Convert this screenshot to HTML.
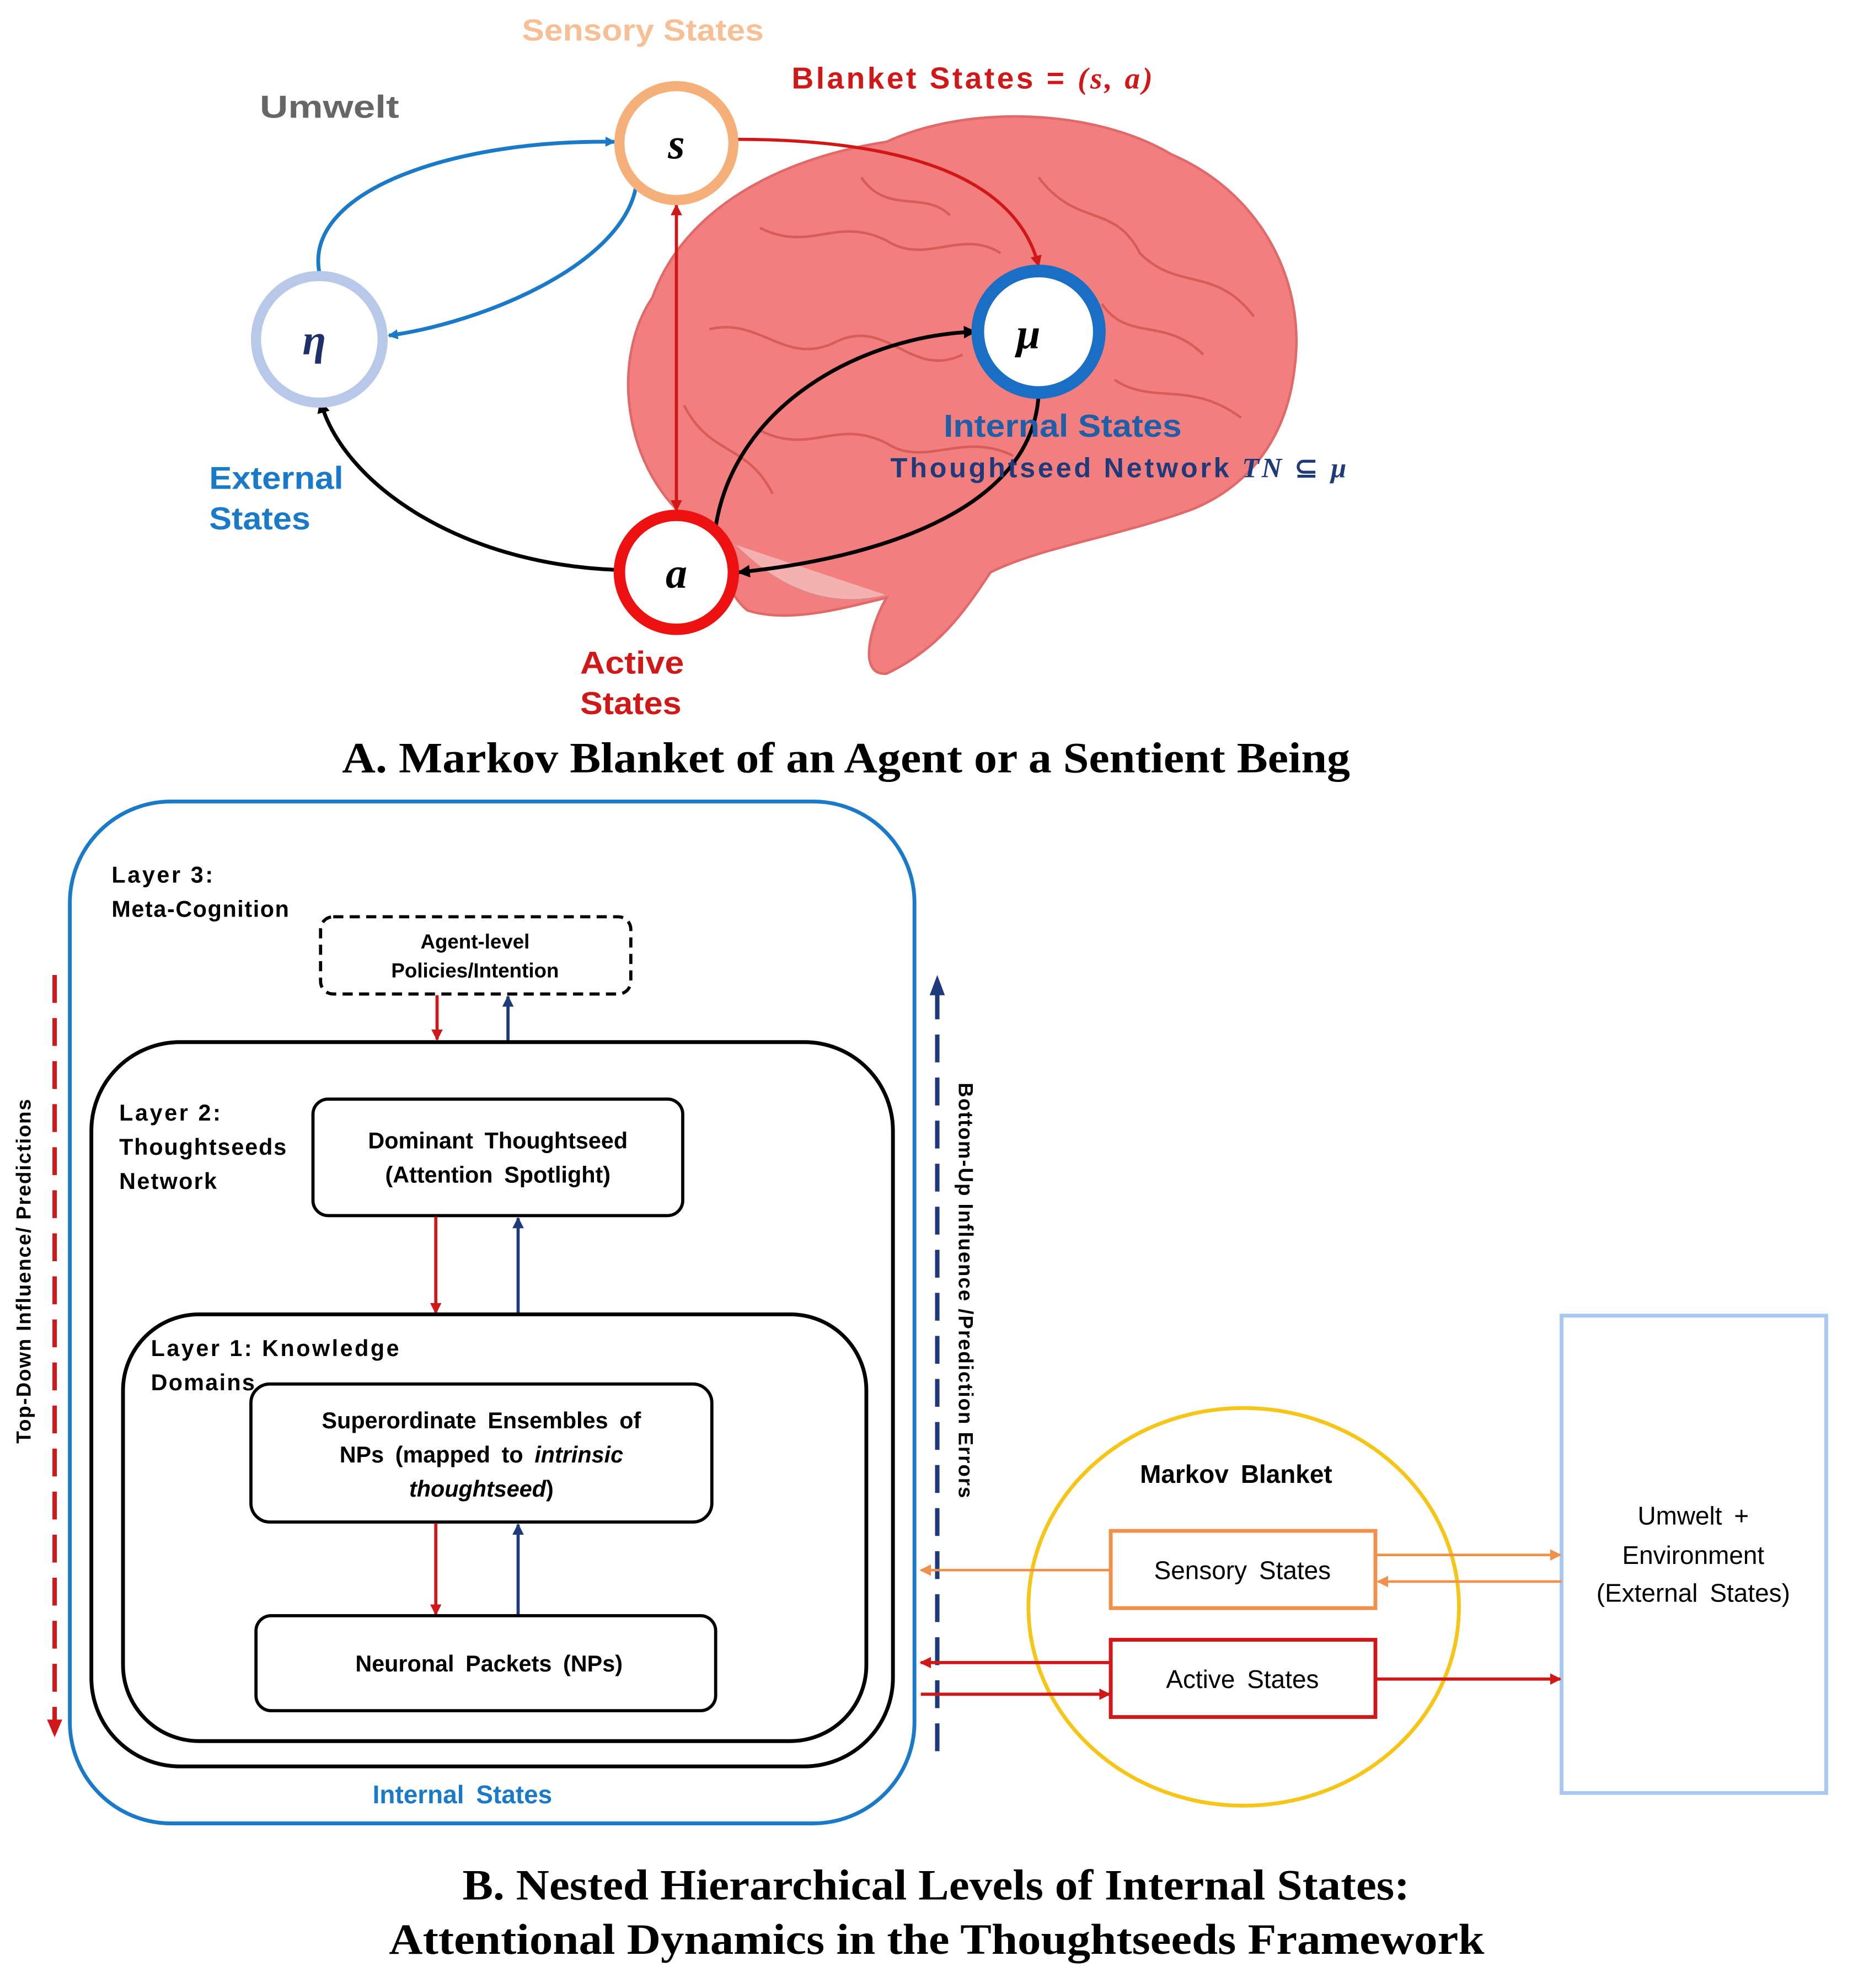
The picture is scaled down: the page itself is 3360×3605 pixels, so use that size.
<!DOCTYPE html>
<html><head><meta charset="utf-8"><style>
html,body{margin:0;padding:0;background:#fff}
svg{display:block}
.s{font-family:"Liberation Sans",sans-serif}
.sf{font-family:"Liberation Serif",serif}
.b{word-spacing:4px}
</style></head><body>
<svg width="3360" height="3605" viewBox="0 0 1463 1570" xmlns="http://www.w3.org/2000/svg">
<defs>
<marker id="mb" markerWidth="8" markerHeight="8" refX="7" refY="4" orient="auto" markerUnits="userSpaceOnUse"><path d="M0,0 L8,4 L0,8 z" fill="#1a7ac8"/></marker>
<marker id="mr" markerWidth="9" markerHeight="9" refX="8" refY="4.5" orient="auto" markerUnits="userSpaceOnUse"><path d="M0,0 L9,4.5 L0,9 z" fill="#d01818"/></marker>
<marker id="mrs" markerWidth="9" markerHeight="9" refX="1" refY="4.5" orient="auto" markerUnits="userSpaceOnUse"><path d="M9,0 L0,4.5 L9,9 z" fill="#d01818"/></marker>
<marker id="mk" markerWidth="10" markerHeight="10" refX="9" refY="5" orient="auto" markerUnits="userSpaceOnUse"><path d="M0,0 L10,5 L0,10 z" fill="#000"/></marker>
<marker id="mn" markerWidth="9" markerHeight="9" refX="8" refY="4.5" orient="auto" markerUnits="userSpaceOnUse"><path d="M0,0 L9,4.5 L0,9 z" fill="#1f3a7a"/></marker>
<marker id="mo" markerWidth="9" markerHeight="9" refX="8" refY="4.5" orient="auto" markerUnits="userSpaceOnUse"><path d="M0,0 L9,4.5 L0,9 z" fill="#f0904a"/></marker>
</defs>

<!-- Brain -->
<path d="M565 425 C495 390 478 290 515 235 C540 165 615 125 700 112 C765 82 865 86 925 122 C995 152 1032 222 1022 292 C1016 342 990 382 942 402 C882 424 822 432 782 452 C762 482 742 512 700 532 C676 534 688 492 700 472 C660 482 620 492 590 482 C575 470 568 445 565 425 Z" fill="#f27e7e" stroke="#e06a6a" stroke-width="2"/>
<path d="M580 430 C620 470 660 480 700 470" fill="#f5b0b0" stroke="#d88" stroke-width="1"/>
<g fill="none" stroke="#d85c5c" stroke-width="2">
<path d="M600 180 C640 200 660 170 700 190 C730 210 760 180 790 200"/>
<path d="M560 260 C600 250 620 290 660 270 C700 250 720 300 760 280"/>
<path d="M820 140 C850 180 880 160 900 200 C930 230 960 210 990 250"/>
<path d="M680 140 C700 170 730 150 750 170"/>
<path d="M880 300 C910 320 940 300 980 330"/>
<path d="M600 340 C640 360 660 330 700 350 C730 370 760 340 800 360"/>
<path d="M870 240 C890 270 920 250 950 280"/>
<path d="M540 320 C560 360 590 350 610 390"/>
</g>

<!-- arrows A -->
<path d="M252 215 C240 150 360 110 485 112" fill="none" stroke="#1a7ac8" stroke-width="3" marker-end="url(#mb)"/>
<path d="M502 148 C490 210 380 255 307 265" fill="none" stroke="#1a7ac8" stroke-width="3" marker-end="url(#mb)"/>
<path d="M580 110 C690 110 800 130 820 210" fill="none" stroke="#d01818" stroke-width="2.5" marker-end="url(#mr)"/>
<line x1="534" y1="162" x2="534" y2="403" stroke="#d01818" stroke-width="2.5" marker-start="url(#mrs)" marker-end="url(#mr)"/>
<path d="M486 450 C360 445 270 380 253 317" fill="none" stroke="#000" stroke-width="3" marker-end="url(#mk)"/>
<path d="M565 416 C580 320 680 265 770 262" fill="none" stroke="#000" stroke-width="3" marker-end="url(#mk)"/>
<path d="M820 312 C815 400 700 440 583 452" fill="none" stroke="#000" stroke-width="3" marker-end="url(#mk)"/>

<!-- circles -->
<circle cx="534" cy="113" r="45" fill="#fff" stroke="#f5b07a" stroke-width="8"/>
<circle cx="252" cy="268" r="50" fill="#fff" stroke="#b8c8e8" stroke-width="8"/>
<circle cx="820" cy="262" r="48" fill="#fff" stroke="#1a6fc4" stroke-width="10"/>
<circle cx="534" cy="452" r="45" fill="#fff" stroke="#ee1111" stroke-width="9"/>
<text x="534" y="125" class="sf" font-size="34" font-style="italic" font-weight="bold" text-anchor="middle">s</text>
<text x="248" y="280" class="sf" font-size="34" font-style="italic" font-weight="bold" text-anchor="middle" fill="#1f2f6a">η</text>
<text x="812" y="275" class="sf" font-size="34" font-style="italic" font-weight="bold" text-anchor="middle">μ</text>
<text x="534" y="464" class="sf" font-size="34" font-style="italic" font-weight="bold" text-anchor="middle">a</text>

<!-- labels A -->
<text x="412" y="32" class="s" font-size="24" font-weight="bold" fill="#f7bf95" textLength="191" lengthAdjust="spacingAndGlyphs">Sensory States</text>
<text x="205" y="93" class="s" font-size="25" font-weight="bold" fill="#666" textLength="110" lengthAdjust="spacingAndGlyphs">Umwelt</text>
<text x="625" y="70" class="s" font-size="24" font-weight="bold" fill="#d01818" textLength="285" lengthAdjust="spacing">Blanket States = <tspan class="sf" font-style="italic">(s, a)</tspan></text>
<text x="165" y="386" class="s" font-size="25" font-weight="bold" fill="#1a7ac8" textLength="106" lengthAdjust="spacingAndGlyphs">External</text>
<text x="165" y="418" class="s" font-size="25" font-weight="bold" fill="#1a7ac8" textLength="80" lengthAdjust="spacingAndGlyphs">States</text>
<text x="745" y="345" class="s" font-size="25" font-weight="bold" fill="#1f5fa8" textLength="188" lengthAdjust="spacingAndGlyphs">Internal States</text>
<text x="703" y="377" class="s" font-size="22" font-weight="bold" fill="#1f3a7a" textLength="360" lengthAdjust="spacing">Thoughtseed Network <tspan class="sf" font-style="italic">TN</tspan>  ⊆ <tspan class="sf" font-style="italic">μ</tspan></text>
<text x="458" y="532" class="s" font-size="25" font-weight="bold" fill="#d01818" textLength="82" lengthAdjust="spacingAndGlyphs">Active</text>
<text x="458" y="564" class="s" font-size="25" font-weight="bold" fill="#d01818" textLength="80" lengthAdjust="spacingAndGlyphs">States</text>
<text x="270" y="610" class="sf" font-size="34" font-weight="bold" textLength="796" lengthAdjust="spacingAndGlyphs">A. Markov Blanket of an Agent or a Sentient Being</text>

<!-- Part B -->
<rect x="55" y="633" width="667" height="807" rx="80" fill="none" stroke="#1a7ac8" stroke-width="3"/>
<text x="88" y="697" class="s" font-size="18" font-weight="bold" textLength="80">Layer 3:</text>
<text x="88" y="724" class="s" font-size="18" font-weight="bold" textLength="140">Meta-Cognition</text>
<rect x="253" y="724" width="245" height="61" rx="10" fill="none" stroke="#000" stroke-width="2.5" stroke-dasharray="8,5"/>
<text x="375" y="749" class="s" font-size="16" text-anchor="middle" font-weight="bold">Agent-level</text>
<text x="375" y="772" class="s" font-size="16" text-anchor="middle" font-weight="bold">Policies/Intention</text>
<line x1="345" y1="786" x2="345" y2="821" stroke="#d01818" stroke-width="2.5" marker-end="url(#mr)"/>
<line x1="401" y1="822" x2="401" y2="787" stroke="#1f3a7a" stroke-width="2.5" marker-end="url(#mn)"/>

<rect x="72" y="823" width="633" height="572" rx="70" fill="none" stroke="#000" stroke-width="3"/>
<text x="94" y="885" class="s" font-size="18" font-weight="bold" textLength="80">Layer 2:</text>
<text x="94" y="912" class="s" font-size="18" font-weight="bold" textLength="132">Thoughtseeds</text>
<text x="94" y="939" class="s" font-size="18" font-weight="bold" textLength="77">Network</text>
<rect x="247" y="868" width="292" height="92" rx="12" fill="none" stroke="#000" stroke-width="2.5"/>
<text x="393" y="907" class="s b" font-size="18" text-anchor="middle" font-weight="bold">Dominant Thoughtseed</text>
<text x="393" y="934" class="s b" font-size="18" text-anchor="middle" font-weight="bold">(Attention Spotlight)</text>
<line x1="344" y1="961" x2="344" y2="1037" stroke="#d01818" stroke-width="2.5" marker-end="url(#mr)"/>
<line x1="409" y1="1038" x2="409" y2="962" stroke="#1f3a7a" stroke-width="2.5" marker-end="url(#mn)"/>

<rect x="97" y="1038" width="587" height="337" rx="60" fill="none" stroke="#000" stroke-width="3"/>
<text x="119" y="1071" class="s" font-size="18" font-weight="bold" textLength="196">Layer 1: Knowledge</text>
<text x="119" y="1098" class="s" font-size="18" font-weight="bold" textLength="82">Domains</text>
<rect x="198" y="1093" width="364" height="109" rx="15" fill="#fff" stroke="#000" stroke-width="2.5"/>
<text x="380" y="1128" class="s b" font-size="18" text-anchor="middle" font-weight="bold">Superordinate Ensembles of</text>
<text x="380" y="1155" class="s b" font-size="18" text-anchor="middle" font-weight="bold">NPs (mapped to <tspan font-style="italic">intrinsic</tspan></text>
<text x="380" y="1182" class="s" font-size="18" text-anchor="middle" font-style="italic" font-weight="bold">thoughtseed<tspan font-style="normal">)</tspan></text>
<line x1="344" y1="1203" x2="344" y2="1275" stroke="#d01818" stroke-width="2.5" marker-end="url(#mr)"/>
<line x1="409" y1="1276" x2="409" y2="1204" stroke="#1f3a7a" stroke-width="2.5" marker-end="url(#mn)"/>
<rect x="202" y="1276" width="363" height="75" rx="12" fill="none" stroke="#000" stroke-width="2.5"/>
<text x="386" y="1320" class="s b" font-size="18" text-anchor="middle" font-weight="bold">Neuronal Packets (NPs)</text>
<text x="365" y="1424" class="s b" font-size="20" font-weight="bold" fill="#1a7ac8" text-anchor="middle">Internal States</text>

<!-- side dashed arrows -->
<line x1="43" y1="770" x2="43" y2="1360" stroke="#d01818" stroke-width="3.5" stroke-dasharray="22,12"/>
<path d="M37 1358 L49 1358 L43 1372 z" fill="#d01818"/>
<text transform="translate(24,1004) rotate(-90)" class="s" font-size="16" font-weight="bold" text-anchor="middle" textLength="272">Top-Down Influence/ Predictions</text>
<line x1="740" y1="1383" x2="740" y2="785" stroke="#1f3a7a" stroke-width="3.5" stroke-dasharray="22,12"/>
<path d="M734 786 L746 786 L740 770 z" fill="#1f3a7a"/>
<text transform="translate(757,1019) rotate(90)" class="s" font-size="16" font-weight="bold" text-anchor="middle" textLength="328">Bottom-Up Influence /Prediction Errors</text>

<!-- Markov blanket -->
<ellipse cx="982" cy="1269" rx="170" ry="157" fill="none" stroke="#f5c518" stroke-width="3"/>
<text x="976" y="1171" class="s b" font-size="20" font-weight="bold" text-anchor="middle">Markov Blanket</text>
<rect x="877" y="1209" width="209" height="61" fill="#fff" stroke="#f0904a" stroke-width="3"/>
<text x="981" y="1247" class="s b" font-size="20" text-anchor="middle">Sensory States</text>
<rect x="877" y="1295" width="209" height="61" fill="#fff" stroke="#d01818" stroke-width="3"/>
<text x="981" y="1333" class="s b" font-size="20" text-anchor="middle">Active States</text>
<rect x="1233" y="1039" width="209" height="377" fill="none" stroke="#a8c8f0" stroke-width="3"/>
<text x="1337" y="1204" class="s b" font-size="20" text-anchor="middle">Umwelt +</text>
<text x="1337" y="1235" class="s" font-size="20" text-anchor="middle">Environment</text>
<text x="1337" y="1265" class="s b" font-size="20" text-anchor="middle">(External States)</text>

<line x1="1086" y1="1228" x2="1232" y2="1228" stroke="#f0904a" stroke-width="2" marker-end="url(#mo)"/>
<line x1="1233" y1="1249" x2="1088" y2="1249" stroke="#f0904a" stroke-width="2" marker-end="url(#mo)"/>
<line x1="877" y1="1240" x2="727" y2="1240" stroke="#f0904a" stroke-width="2" marker-end="url(#mo)"/>
<line x1="877" y1="1313" x2="727" y2="1313" stroke="#d01818" stroke-width="2.5" marker-end="url(#mr)"/>
<line x1="727" y1="1338" x2="876" y2="1338" stroke="#d01818" stroke-width="2.5" marker-end="url(#mr)"/>
<line x1="1086" y1="1326" x2="1232" y2="1326" stroke="#d01818" stroke-width="2.5" marker-end="url(#mr)"/>

<text x="365" y="1500" class="sf" font-size="34" font-weight="bold" textLength="748" lengthAdjust="spacingAndGlyphs">B. Nested Hierarchical Levels of Internal States:</text>
<text x="307" y="1543" class="sf" font-size="34" font-weight="bold" textLength="865" lengthAdjust="spacingAndGlyphs">Attentional Dynamics in the Thoughtseeds Framework</text>
</svg>
</body></html>
